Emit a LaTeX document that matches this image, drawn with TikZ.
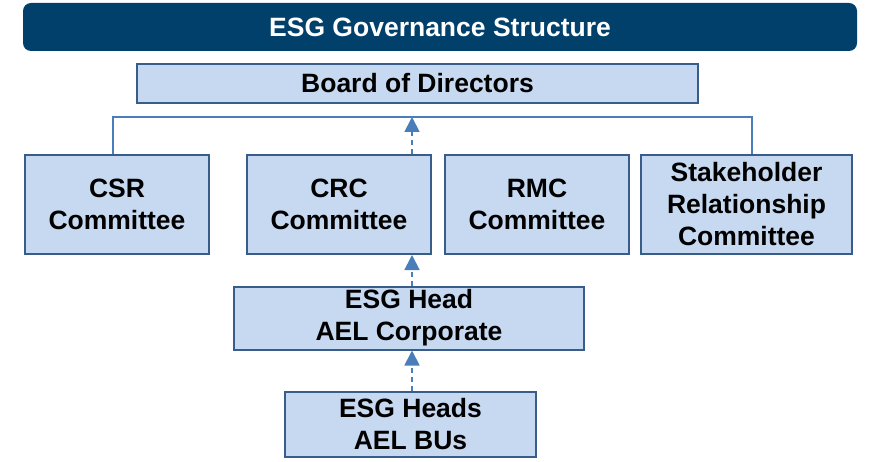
\documentclass[tikz,border=0pt]{standalone}
\usepackage{fontspec}
\setmainfont{Liberation Sans}
\usepackage{xcolor}
\usetikzlibrary{arrows.meta,positioning,calc}
\definecolor{titleblue}{RGB}{0,64,106}
\definecolor{boxfill}{RGB}{198,217,241}
\definecolor{boxline}{RGB}{56,93,138}
\definecolor{linkblue}{RGB}{74,126,187}

\begin{document}
\begin{tikzpicture}[x=1pt, y=-1pt]
    \tikzstyle{header} = [fill=titleblue, rectangle, rounded corners=8pt, minimum height=48pt, minimum width=834pt, align=center, text=white, font=\fontsize{26.5}{32}\selectfont\bfseries, inner sep=0pt]
    \tikzstyle{block} = [draw=boxline, fill=boxfill, rectangle, line width=2pt, minimum height=99pt, minimum width=184pt, align=center, font=\fontsize{26.5}{32}\selectfont\bfseries, inner sep=0pt]
    \tikzstyle{link} = [draw=linkblue, line width=1.8pt]
    \tikzstyle{uplink} = [link, dash pattern=on 5pt off 4pt, -{Triangle[width=15pt,length=15pt]}]

    \useasboundingbox (0,0) rectangle (869,462);

    \node [header] (title) at (440,27) {ESG Governance Structure};

    \node [block, minimum width=561pt, minimum height=39pt] (board) at (417.5,83.5) {Board of Directors};

    \node [block] (csr) at (117,204.5) {CSR\\Committee};
    \node [block] (crc) at (339,204.5) {CRC\\Committee};
    \node [block] (rmc) at (537,204.5) {RMC\\Committee};
    \node [block, minimum width=211pt] (stake) at (746.5,204.5) {Stakeholder\\Relationship\\Committee};

    \node [block, minimum width=350pt, minimum height=63pt] (head) at (409,318) {ESG Head\\AEL Corporate};
    \node [block, minimum width=251pt, minimum height=65pt] (bus) at (410.5,424) {ESG Heads\\AEL BUs};

    % committee bus line
    \coordinate (busL) at (113,117);
    \coordinate (busM) at (412,117);
    \coordinate (busR) at (752,117);
    \draw [link] (csr.north -| busL) -- (busL) -- (busR) -- (stake.north -| busR);
    \draw [uplink] (crc.north -| busM) -- (busM);

    % reporting lines
    \draw [uplink] (head.north -| busM) -- (crc.south -| busM);
    \draw [uplink] (bus.north -| busM) -- (head.south -| busM);
\end{tikzpicture}
\end{document}
